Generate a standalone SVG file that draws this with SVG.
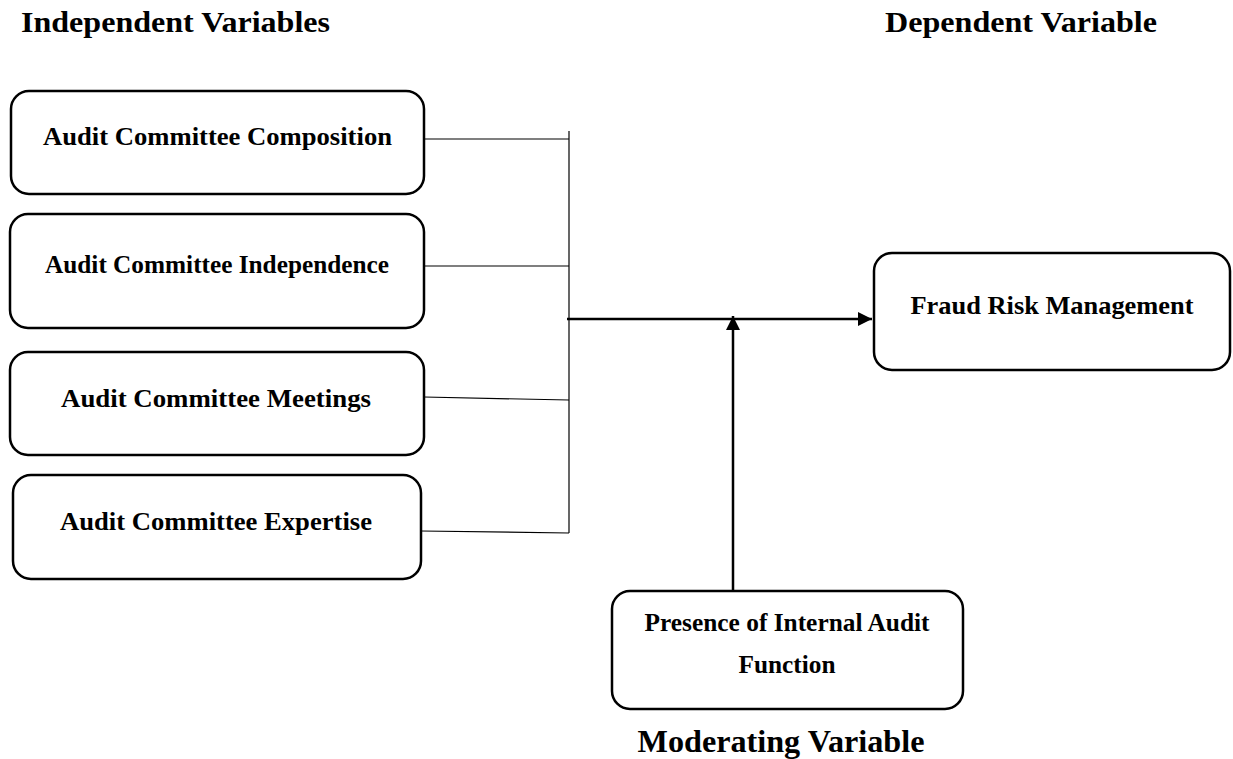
<svg xmlns="http://www.w3.org/2000/svg" width="1233" height="759" viewBox="0 0 1233 759">
<style>
.box{fill:#fff;stroke:#000;stroke-width:2.5}
.lbl{font-family:"Liberation Serif","Times New Roman",serif;font-weight:bold;font-size:25px;fill:#000;text-anchor:middle}
.hdr{font-family:"Liberation Serif","Times New Roman",serif;font-weight:bold;font-size:30px;fill:#000}
.thin{stroke:#000;stroke-width:1.2;fill:none}
.thick{stroke:#000;stroke-width:2.5;fill:none}
</style>
<defs>
<marker id="ah2" markerWidth="14" markerHeight="14" refX="14" refY="7" orient="auto" markerUnits="userSpaceOnUse" viewBox="0 0 14 14">
<path d="M0,0 L14,7 L0,14 Z" fill="#000"/>
</marker>
</defs>
<text class="hdr" x="21" y="32" textLength="309" lengthAdjust="spacingAndGlyphs">Independent Variables</text>
<text class="hdr" x="885" y="32" textLength="272" lengthAdjust="spacingAndGlyphs">Dependent Variable</text>
<g id="n1"><rect class="box" x="11" y="91" width="413" height="103" rx="18"/><text class="lbl" x="217.5" y="145" textLength="349" lengthAdjust="spacingAndGlyphs">Audit Committee Composition</text></g>
<g id="n2"><rect class="box" x="10" y="214" width="414" height="114" rx="18"/><text class="lbl" x="217" y="273" textLength="344" lengthAdjust="spacingAndGlyphs">Audit Committee Independence</text></g>
<g id="n3"><rect class="box" x="10" y="352" width="414" height="103" rx="18"/><text class="lbl" x="216" y="407" textLength="310" lengthAdjust="spacingAndGlyphs">Audit Committee Meetings</text></g>
<g id="n4"><rect class="box" x="13" y="475" width="408" height="104" rx="18"/><text class="lbl" x="216" y="530" textLength="312" lengthAdjust="spacingAndGlyphs">Audit Committee Expertise</text></g>
<g id="n5"><rect class="box" x="874" y="253" width="356" height="117" rx="18"/><text class="lbl" x="1052" y="314" textLength="283" lengthAdjust="spacingAndGlyphs">Fraud Risk Management</text></g>
<g id="n6"><rect class="box" x="612" y="591" width="351" height="118" rx="18"/><text class="lbl" x="787" y="631" textLength="285" lengthAdjust="spacingAndGlyphs">Presence of Internal Audit</text><text class="lbl" x="787" y="673" textLength="97" lengthAdjust="spacingAndGlyphs">Function</text></g>
<text class="hdr" x="781" y="752" style="font-size:32px;text-anchor:middle" textLength="287" lengthAdjust="spacingAndGlyphs">Moderating Variable</text>
<g id="connectors">
<line class="thin" x1="569" y1="131" x2="569" y2="533"/>
<line class="thin" x1="424" y1="139" x2="569" y2="139"/>
<line class="thin" x1="424" y1="266" x2="569" y2="266"/>
<line class="thin" x1="424" y1="397" x2="569" y2="400"/>
<line class="thin" x1="421" y1="531" x2="569" y2="533"/>
<line class="thick" x1="567" y1="319" x2="872" y2="319" marker-end="url(#ah2)"/>
<line class="thick" x1="733" y1="591" x2="733" y2="316" marker-end="url(#ah2)"/>
</g>
</svg>
